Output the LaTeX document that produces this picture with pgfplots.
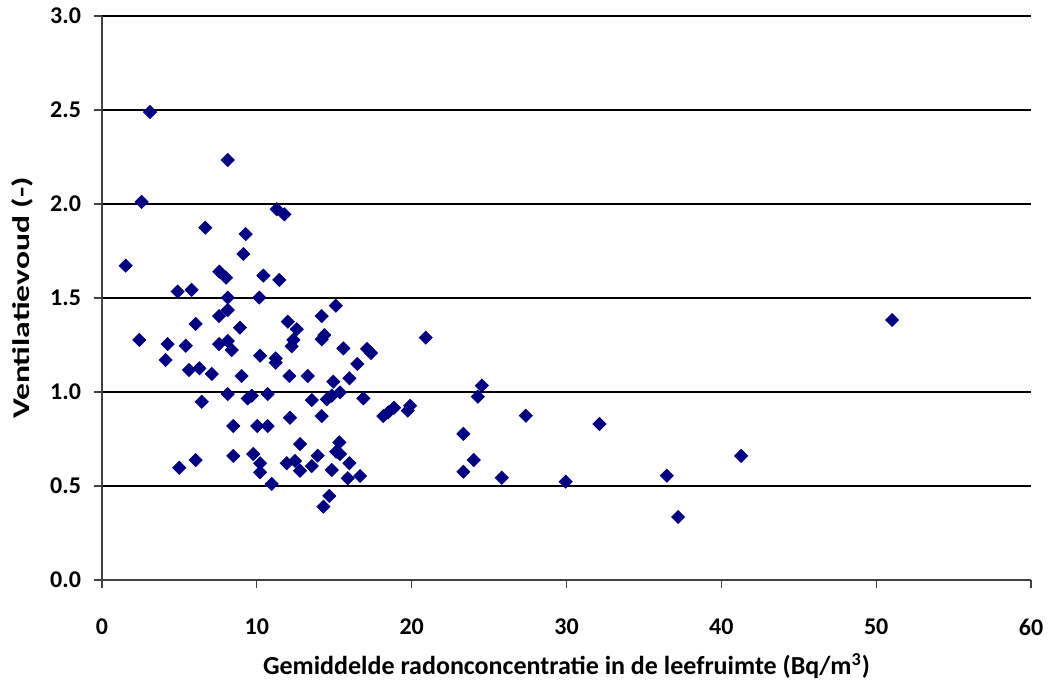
\documentclass[border=0pt]{standalone}
\usepackage{pgfplots}
\pgfplotsset{compat=1.18}
\usepackage{graphicx}
\usepackage{fontspec}
\setmainfont{Carlito}
\definecolor{navy}{HTML}{000080}
\definecolor{axgray}{HTML}{404040}
\begin{document}
\begin{tikzpicture}
\path[use as bounding box] (-51pt,-54pt) rectangle (473.5pt,290pt);
\begin{axis}[
  at={(0,0)}, anchor=south west,
  scale only axis, width=464.5pt, height=282pt,
  xmin=0, xmax=60, ymin=0, ymax=3,
  xtick={0,10,...,60}, ytick={0,0.5,...,3},
  axis x line*=bottom, axis y line*=left,
  axis line style={axgray, line width=1pt, -},
  ymajorgrids, grid style={black, line width=0.6pt},
  tick align=outside, major tick length=4pt,
  tick style={axgray, line width=0.6pt},
  /pgf/number format/assume math mode=true,
  ticklabel style={font=\bfseries\fontsize{12}{14}\selectfont},
  yticklabel style={/pgf/number format/fixed, /pgf/number format/fixed zerofill, /pgf/number format/precision=1, xshift=-3pt},
  xticklabel style={yshift=-12pt},
  xlabel={Gemiddelde radonconcentratie in de leefruimte (Bq/m\textsuperscript{3})},
  ylabel={\scalebox{1.4}[1]{Ventilatievoud (-)}},
  xlabel style={font=\bfseries\fontsize{13}{15}\selectfont, at={(axis description cs:0.5,-0.1525)}, anchor=center},
  ylabel style={font=\bfseries\fontsize{12}{14}\selectfont, at={(axis description cs:-0.0861,0.5)}, anchor=center},
]
\addplot[only marks, mark=square*, mark size=2.3pt, mark options={rotate=45, fill=navy, draw=navy}, color=navy] table {
x y
3.10 2.489
8.12 2.234
2.56 2.011
6.67 1.874
9.28 1.840
9.13 1.734
11.29 1.972
11.78 1.945
1.53 1.672
7.58 1.640
8.01 1.608
10.42 1.619
11.45 1.596
4.89 1.534
5.79 1.543
8.12 1.502
10.16 1.502
7.56 1.404
8.12 1.436
6.05 1.362
8.91 1.342
12.00 1.374
12.58 1.334
2.41 1.277
4.24 1.255
5.41 1.246
7.56 1.255
8.12 1.271
8.38 1.223
4.11 1.170
10.21 1.193
11.22 1.179
11.22 1.156
12.25 1.243
12.36 1.277
5.62 1.117
6.29 1.126
7.09 1.096
9.02 1.085
12.10 1.085
8.12 0.989
6.44 0.948
9.41 0.966
9.67 0.980
10.70 0.989
12.14 0.863
8.48 0.819
10.03 0.819
10.70 0.819
12.79 0.723
8.48 0.660
6.05 0.638
4.99 0.597
9.77 0.670
10.21 0.621
10.21 0.573
10.96 0.511
11.93 0.621
12.47 0.633
12.79 0.581
15.10 1.459
14.19 1.404
14.19 1.280
14.36 1.303
15.59 1.232
17.12 1.229
17.38 1.207
20.91 1.289
16.49 1.149
13.29 1.085
14.94 1.055
15.98 1.073
13.55 0.957
14.52 0.961
14.84 0.980
15.37 0.998
16.88 0.966
14.19 0.872
18.17 0.872
18.49 0.892
18.86 0.916
19.75 0.901
19.90 0.927
15.33 0.732
15.12 0.682
15.37 0.670
13.93 0.661
13.55 0.606
14.84 0.585
15.98 0.621
15.87 0.541
16.67 0.553
14.68 0.447
14.30 0.390
24.53 1.034
24.27 0.975
27.37 0.874
32.13 0.830
23.34 0.777
24.01 0.638
23.34 0.576
25.82 0.544
29.95 0.523
36.48 0.555
37.21 0.335
41.28 0.660
51.03 1.383
};
\end{axis}
\end{tikzpicture}
\end{document}
